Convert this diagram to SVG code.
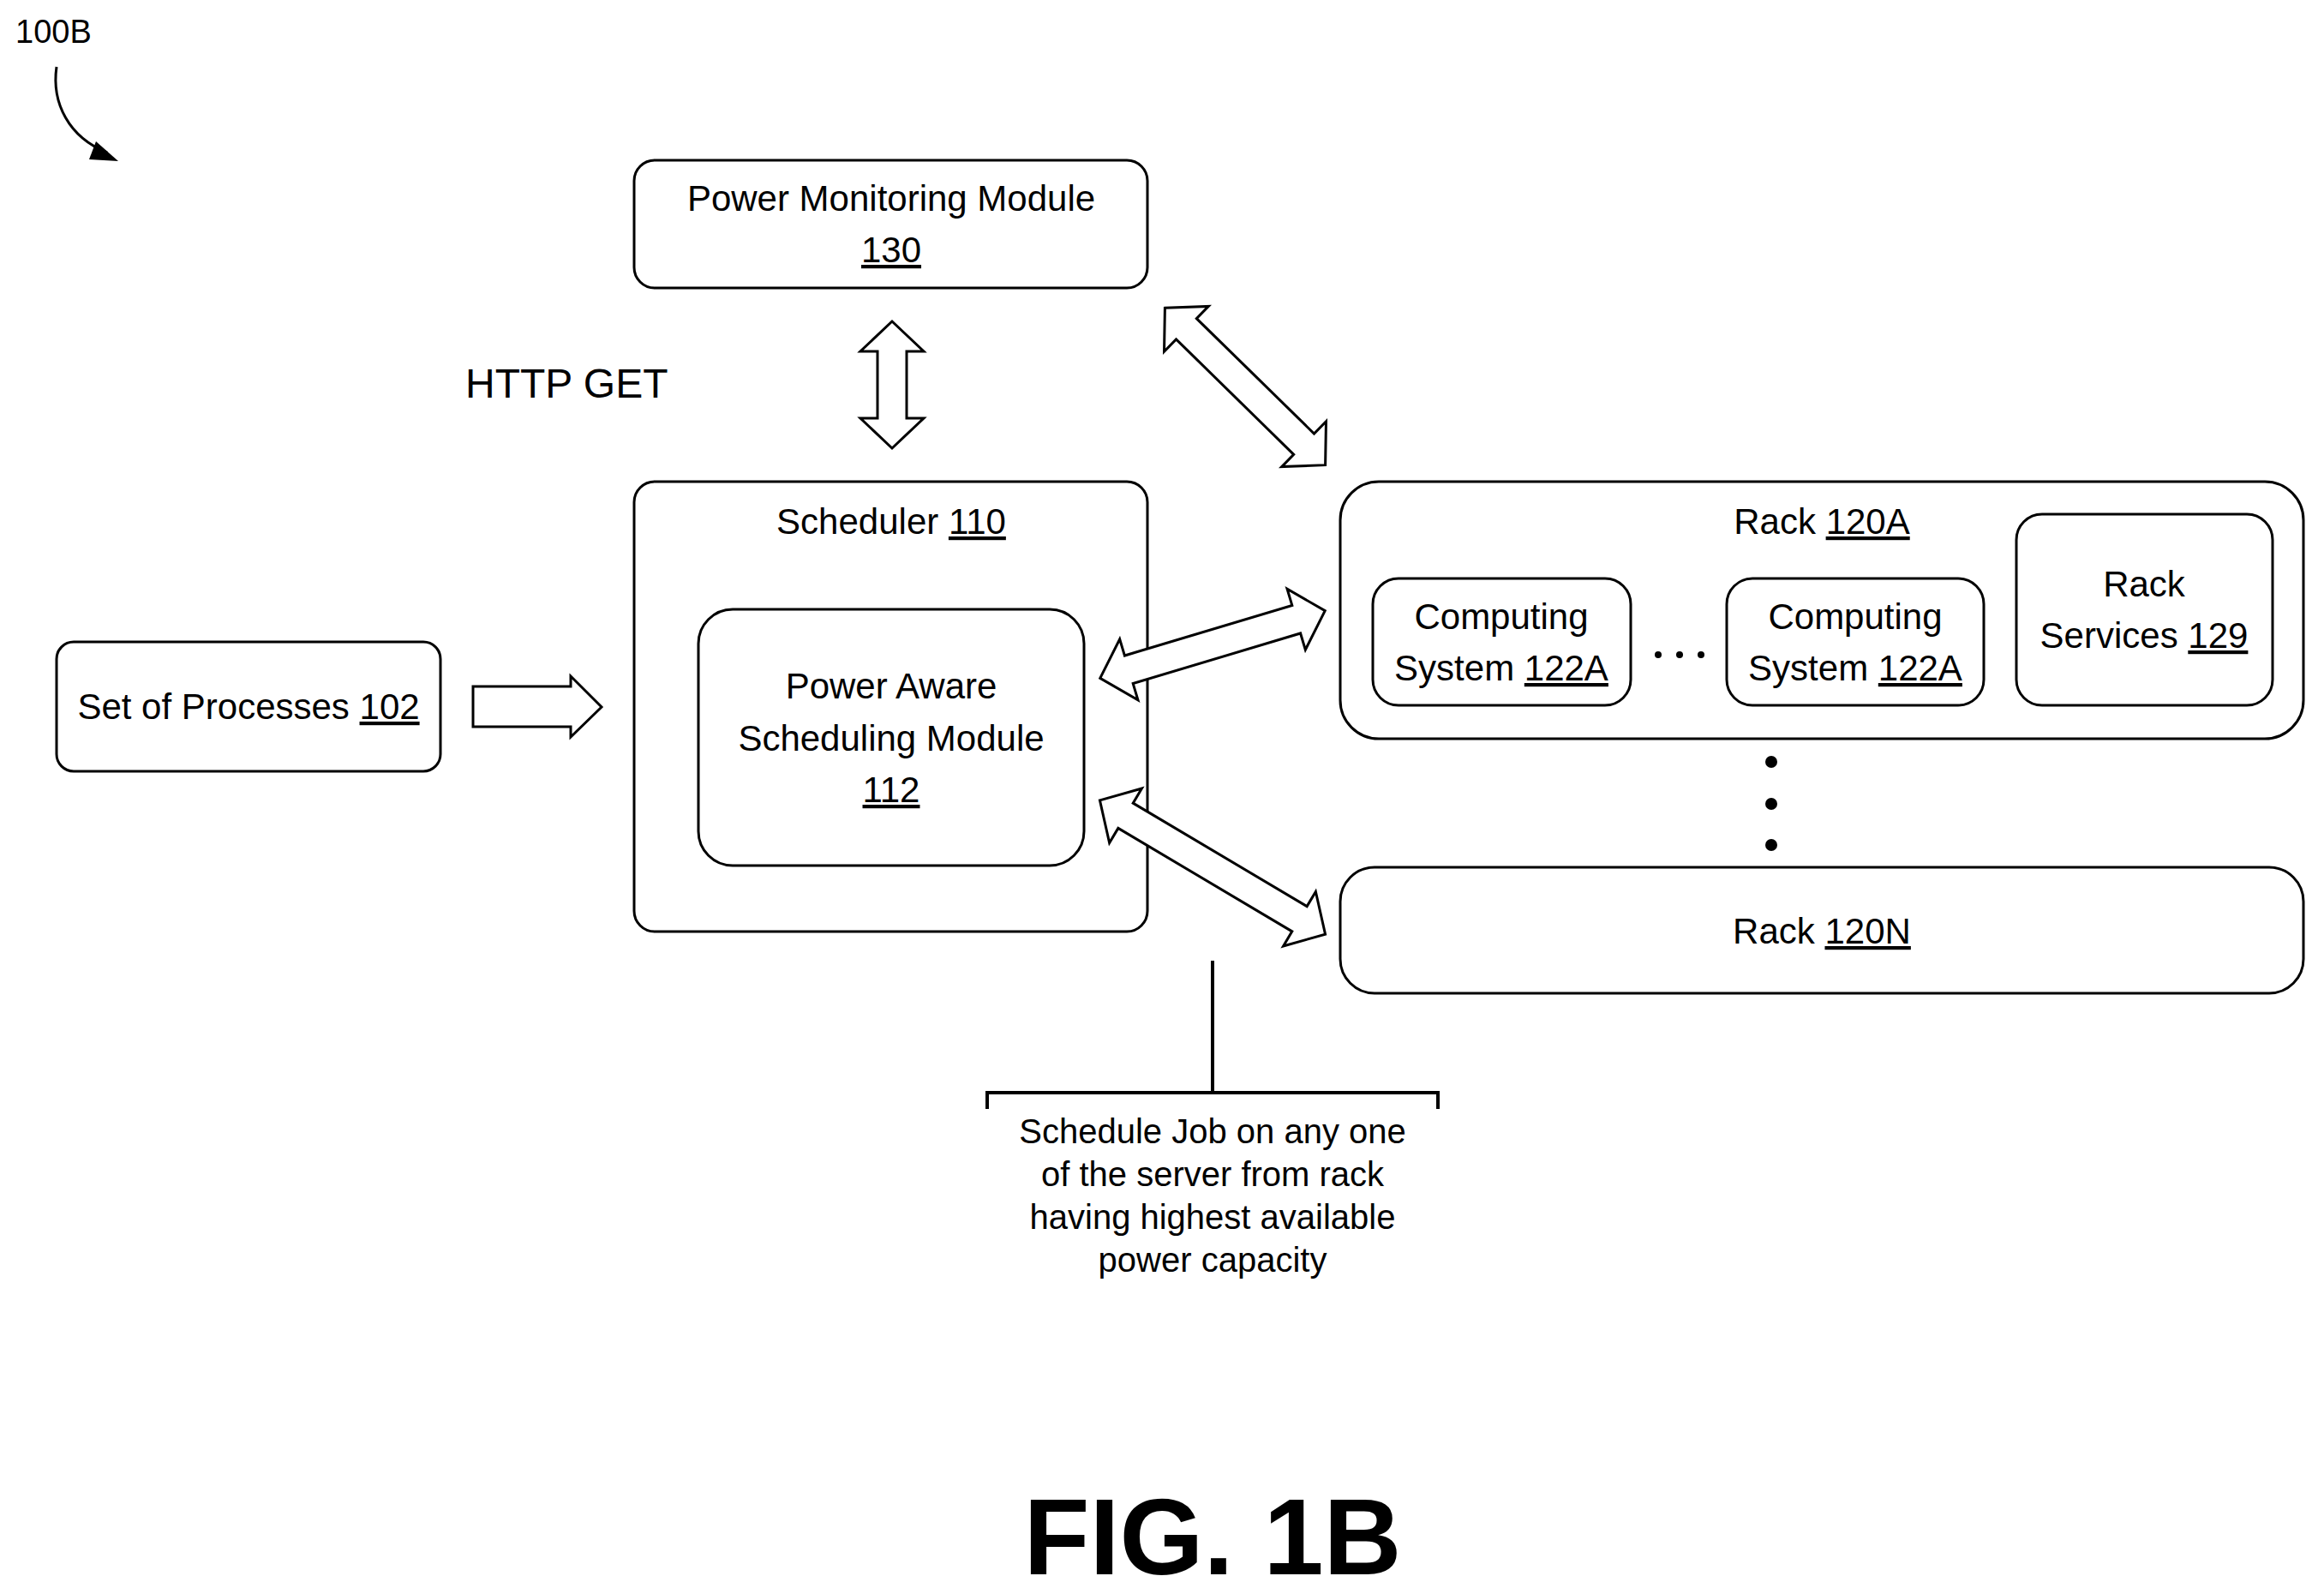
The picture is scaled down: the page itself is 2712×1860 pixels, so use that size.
<svg xmlns="http://www.w3.org/2000/svg" width="2712" height="1860" viewBox="0 0 2712 1860">
<style>
.b{fill:#fff;stroke:#000;stroke-width:3}
.t{font-family:"Liberation Sans",Arial,sans-serif;font-size:42px;text-anchor:middle;fill:#000}
.a{fill:#fff;stroke:#000;stroke-width:3;stroke-linejoin:miter}
</style>
<rect width="2712" height="1860" fill="#fff"/>
<text x="18" y="50" style="font-family:'Liberation Sans',sans-serif;font-size:38px">100B</text>
<path d="M66,78 C60,120 80,160 125,178" fill="none" stroke="#000" stroke-width="3"/>
<path d="M112,165 L138,188 L104,186 z" fill="#000"/>

<g id="pmm"><rect class="b" x="740" y="187" width="599" height="149" rx="24"/>
<text class="t" x="1040" y="246">Power Monitoring Module</text>
<text class="t" x="1040" y="306" text-decoration="underline">130</text></g>

<text x="543" y="464" style="font-family:'Liberation Sans',sans-serif;font-size:48px">HTTP GET</text>

<g id="sched"><rect class="b" x="740" y="562" width="599" height="525" rx="24"/>
<text class="t" x="1040" y="623">Scheduler <tspan text-decoration="underline">110</tspan></text></g>
<g id="pasm"><rect class="b" x="815" y="711" width="450" height="299" rx="40"/>
<text class="t" x="1040" y="815">Power Aware</text>
<text class="t" x="1040" y="876">Scheduling Module</text>
<text class="t" x="1040" y="936" text-decoration="underline">112</text></g>

<g id="procs"><rect class="b" x="66" y="749" width="448" height="151" rx="20"/>
<text class="t" x="290" y="839">Set of Processes <tspan text-decoration="underline">102</tspan></text></g>

<g id="rackA"><rect class="b" x="1564" y="562" width="1124" height="300" rx="45"/>
<text class="t" x="2126" y="623">Rack <tspan text-decoration="underline">120A</tspan></text></g>
<g id="cs1"><rect class="b" x="1602" y="675" width="301" height="148" rx="30"/>
<text class="t" x="1752" y="734">Computing</text>
<text class="t" x="1752" y="794">System <tspan text-decoration="underline">122A</tspan></text></g>
<g id="cs2"><rect class="b" x="2015" y="675" width="300" height="148" rx="30"/>
<text class="t" x="2165" y="734">Computing</text>
<text class="t" x="2165" y="794">System <tspan text-decoration="underline">122A</tspan></text></g>
<g id="rs"><rect class="b" x="2353" y="600" width="299" height="223" rx="30"/>
<text class="t" x="2502" y="696">Rack</text>
<text class="t" x="2502" y="756">Services <tspan text-decoration="underline">129</tspan></text></g>
<g id="dots" fill="#000">
<circle cx="1935" cy="764" r="4"/><circle cx="1960" cy="764" r="4"/><circle cx="1985" cy="764" r="4"/>
<circle cx="2067" cy="889" r="7"/><circle cx="2067" cy="938" r="7"/><circle cx="2067" cy="986" r="7"/></g>
<g id="rackN"><rect class="b" x="1564" y="1012" width="1124" height="147" rx="40"/>
<text class="t" x="2126" y="1101">Rack <tspan text-decoration="underline">120N</tspan></text></g>

<g id="connectors">
<polygon class="a" points="552,801 666,801 666,789 702,825 666,860 666,848 552,848"/>
<g transform="translate(1041,449) rotate(90)"><polygon class="a" points="-74,0 -39,-37 -39,-17 39,-17 39,-37 74,0 39,37 39,17 -39,17 -39,37"/></g>
<g transform="translate(1453,451) rotate(44.4)"><polygon class="a" points="-131,0 -96,-37 -96,-17 96,-17 96,-37 131,0 96,37 96,17 -96,17 -96,37"/></g>
<g transform="translate(1415,752) rotate(-16.7)"><polygon class="a" points="-137,0 -102,-37 -102,-17 102,-17 102,-37 137,0 102,37 102,17 -102,17 -102,37"/></g>
<g transform="translate(1415,1012) rotate(30.7)"><polygon class="a" points="-153,0 -118,-37 -118,-17 118,-17 118,-37 153,0 118,37 118,17 -118,17 -118,37"/></g>
<path d="M1415,1121 V1275 M1152,1294 V1275 H1678 V1294" fill="none" stroke="#000" stroke-width="4"/>
</g>
<g style="font-family:'Liberation Sans',sans-serif;font-size:40px;text-anchor:middle">
<text x="1415" y="1334">Schedule Job on any one</text>
<text x="1415" y="1384">of the server from rack</text>
<text x="1415" y="1434">having highest available</text>
<text x="1415" y="1484">power capacity</text>
</g>
<text x="1415" y="1837" style="font-family:'Liberation Sans',sans-serif;font-size:126px;font-weight:bold;text-anchor:middle">FIG. 1B</text>
</svg>
